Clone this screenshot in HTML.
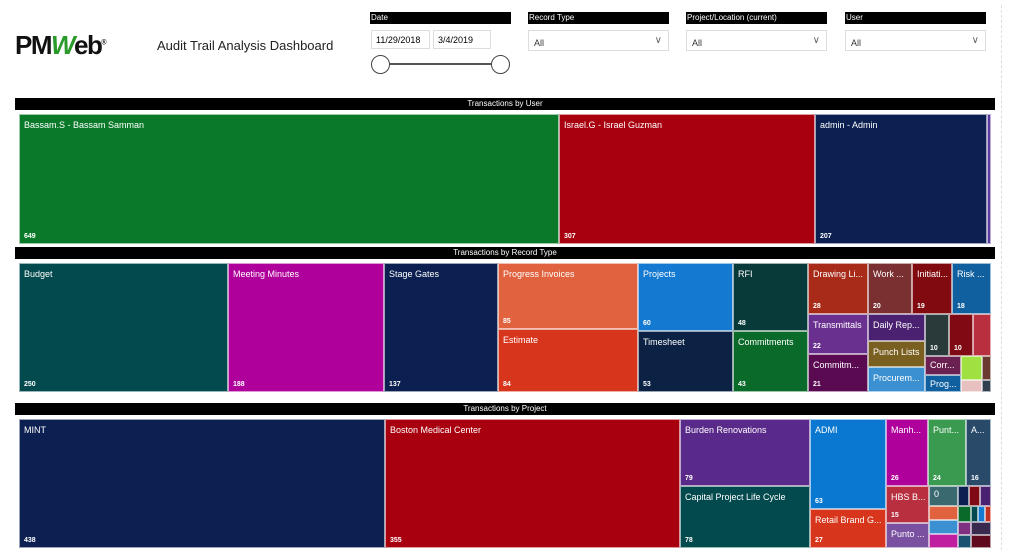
<!DOCTYPE html>
<html><head><meta charset="utf-8"><style>
body{margin:0;width:1024px;height:557px;background:#fff;position:relative;overflow:hidden;font-family:"Liberation Sans",sans-serif}
.a{position:absolute;box-sizing:border-box}
.t{position:absolute;box-sizing:border-box;color:#fff;font-size:9px;overflow:hidden;white-space:nowrap;border:1px solid rgba(255,255,255,.6)}
.t .l{position:absolute;left:4px;top:5px}
.t .n{position:absolute;left:4px;bottom:3px;font-size:7px;font-weight:bold}
.bar{position:absolute;left:15px;width:980px;height:12px;background:#000;color:#fff;font-size:8px;text-align:center;line-height:12px;font-family:"Liberation Sans Narrow","Liberation Sans",sans-serif}
.hd{position:absolute;height:12px;background:#000;color:#fff;font-size:8px;line-height:12px;padding-left:1px;font-family:"Liberation Sans Narrow","Liberation Sans",sans-serif}
.dd{position:absolute;height:21px;border:1px solid #ddd;font-size:9px;color:#333;box-sizing:border-box;padding:7px 0 0 5px}
.dd:after{content:"∨";position:absolute;right:6px;top:4px;font-size:10px;color:#666}
</style></head><body>
<div class="a" style="left:15px;top:30px;font:bold 26px 'Liberation Sans',sans-serif;color:#111;letter-spacing:-1.5px">PM<span style="color:#2a9a2a;font-style:italic">W</span>eb<sup style="font-size:7px">®</sup></div>
<div class="a" style="left:157px;top:38px;font-size:13px;color:#222">Audit Trail Analysis Dashboard</div>
<div class="hd" style="left:370px;top:12px;width:140px">Date</div>
<div class="hd" style="left:528px;top:12px;width:140px">Record Type</div>
<div class="hd" style="left:686px;top:12px;width:140px">Project/Location (current)</div>
<div class="hd" style="left:845px;top:12px;width:140px">User</div>
<div class="a" style="left:371px;top:30px;width:59px;height:19px;border:1px solid #ddd;font-size:9px;padding:4px 0 0 4px">11/29/2018</div>
<div class="a" style="left:433px;top:30px;width:58px;height:19px;border:1px solid #ddd;font-size:9px;padding:4px 0 0 4px">3/4/2019</div>
<div class="a" style="left:380px;top:63px;width:120px;height:2px;background:#555"></div>
<div class="a" style="left:371px;top:55px;width:19px;height:19px;border:1.5px solid #444;border-radius:50%;background:#fff"></div>
<div class="a" style="left:491px;top:55px;width:19px;height:19px;border:1.5px solid #444;border-radius:50%;background:#fff"></div>
<div class="dd" style="left:528px;top:30px;width:141px">All</div>
<div class="dd" style="left:686px;top:30px;width:141px">All</div>
<div class="dd" style="left:845px;top:30px;width:141px">All</div>
<div class="a" style="left:1001px;top:5px;width:0;height:545px;border-left:1px dashed #ddd"></div>

<div class="bar" style="top:98px">Transactions by User</div>
<div class="t" style="left:19px;top:114px;width:540px;height:130px;background:#0a7a2a"><span class="l">Bassam.S - Bassam Samman</span><span class="n">649</span></div>
<div class="t" style="left:559px;top:114px;width:256px;height:130px;background:#a8000f"><span class="l">Israel.G - Israel Guzman</span><span class="n">307</span></div>
<div class="t" style="left:815px;top:114px;width:172px;height:130px;background:#0b2050"><span class="l">admin - Admin</span><span class="n">207</span></div>
<div class="t" style="left:987px;top:114px;width:4px;height:130px;background:#5a3aa0"></div>

<div class="bar" style="top:247px">Transactions by Record Type</div>
<div class="t" style="left:19px;top:263px;width:209px;height:129px;background:#034a4e"><span class="l">Budget</span><span class="n">250</span></div>
<div class="t" style="left:228px;top:263px;width:156px;height:129px;background:#b0009c"><span class="l">Meeting Minutes</span><span class="n">188</span></div>
<div class="t" style="left:384px;top:263px;width:114px;height:129px;background:#0b2050"><span class="l">Stage Gates</span><span class="n">137</span></div>
<div class="t" style="left:498px;top:263px;width:140px;height:66px;background:#e0623e"><span class="l">Progress Invoices</span><span class="n">85</span></div>
<div class="t" style="left:498px;top:329px;width:140px;height:63px;background:#d8361c"><span class="l">Estimate</span><span class="n">84</span></div>
<div class="t" style="left:638px;top:263px;width:95px;height:68px;background:#1479d0"><span class="l">Projects</span><span class="n">60</span></div>
<div class="t" style="left:638px;top:331px;width:95px;height:61px;background:#0b2245"><span class="l">Timesheet</span><span class="n">53</span></div>
<div class="t" style="left:733px;top:263px;width:75px;height:68px;background:#083a3a"><span class="l">RFI</span><span class="n">48</span></div>
<div class="t" style="left:733px;top:331px;width:75px;height:61px;background:#0a6a2a"><span class="l">Commitments</span><span class="n">43</span></div>
<div class="t" style="left:808px;top:263px;width:60px;height:51px;background:#a82a18"><span class="l">Drawing Li...</span><span class="n">28</span></div>
<div class="t" style="left:808px;top:314px;width:60px;height:40px;background:#6a3090"><span class="l">Transmittals</span><span class="n">22</span></div>
<div class="t" style="left:808px;top:354px;width:60px;height:38px;background:#5a0a50"><span class="l">Commitm...</span><span class="n">21</span></div>
<div class="t" style="left:868px;top:263px;width:44px;height:51px;background:#7a3030"><span class="l">Work ...</span><span class="n">20</span></div>
<div class="t" style="left:912px;top:263px;width:40px;height:51px;background:#800a10"><span class="l">Initiati...</span><span class="n">19</span></div>
<div class="t" style="left:952px;top:263px;width:39px;height:51px;background:#1060a0"><span class="l">Risk ...</span><span class="n">18</span></div>
<div class="t" style="left:868px;top:314px;width:57px;height:27px;background:#4a2070"><span class="l">Daily Rep...</span></div>
<div class="t" style="left:868px;top:341px;width:57px;height:26px;background:#7a6020"><span class="l">Punch Lists</span></div>
<div class="t" style="left:868px;top:367px;width:57px;height:25px;background:#3a90d0"><span class="l">Procurem...</span></div>
<div class="t" style="left:925px;top:314px;width:24px;height:42px;background:#2a3a3a"><span class="n">10</span></div>
<div class="t" style="left:949px;top:314px;width:24px;height:42px;background:#800a14"><span class="n">10</span></div>
<div class="t" style="left:973px;top:314px;width:18px;height:42px;background:#b83040"></div>
<div class="t" style="left:925px;top:356px;width:36px;height:19px;background:#6a2050"><span class="l" style="top:3px">Corr...</span></div>
<div class="t" style="left:925px;top:375px;width:36px;height:17px;background:#1060a0"><span class="l" style="top:3px">Prog...</span></div>
<div class="t" style="left:961px;top:356px;width:21px;height:24px;background:#a0e040"></div>
<div class="t" style="left:982px;top:356px;width:9px;height:24px;background:#6a3a30"></div>
<div class="t" style="left:961px;top:380px;width:21px;height:12px;background:#e8c0c0"></div>
<div class="t" style="left:982px;top:380px;width:9px;height:12px;background:#304050"></div>

<div class="bar" style="top:403px">Transactions by Project</div>
<div class="t" style="left:19px;top:419px;width:366px;height:129px;background:#0b2050"><span class="l">MINT</span><span class="n">438</span></div>
<div class="t" style="left:385px;top:419px;width:295px;height:129px;background:#a8000f"><span class="l">Boston Medical Center</span><span class="n">355</span></div>
<div class="t" style="left:680px;top:419px;width:130px;height:67px;background:#5a2a8a"><span class="l">Burden Renovations</span><span class="n">79</span></div>
<div class="t" style="left:680px;top:486px;width:130px;height:62px;background:#034a4e"><span class="l">Capital Project Life Cycle</span><span class="n">78</span></div>
<div class="t" style="left:810px;top:419px;width:76px;height:90px;background:#0a78d0"><span class="l">ADMI</span><span class="n">63</span></div>
<div class="t" style="left:810px;top:509px;width:76px;height:39px;background:#d8361c"><span class="l">Retail Brand G...</span><span class="n">27</span></div>
<div class="t" style="left:886px;top:419px;width:42px;height:67px;background:#b0009c"><span class="l">Manh...</span><span class="n">26</span></div>
<div class="t" style="left:928px;top:419px;width:38px;height:67px;background:#3a9a50"><span class="l">Punt...</span><span class="n">24</span></div>
<div class="t" style="left:966px;top:419px;width:25px;height:67px;background:#2a4a6a"><span class="l">A...</span><span class="n">16</span></div>
<div class="t" style="left:886px;top:486px;width:43px;height:37px;background:#b83040"><span class="l">HBS B...</span><span class="n">15</span></div>
<div class="t" style="left:886px;top:523px;width:43px;height:25px;background:#7a50a0"><span class="l">Punto ...</span></div>
<div class="t" style="left:929px;top:486px;width:29px;height:20px;background:#3a6a70"><span class="l" style="top:2px">0</span></div>
<div class="t" style="left:929px;top:506px;width:29px;height:14px;background:#e0623e"></div>
<div class="t" style="left:929px;top:520px;width:29px;height:14px;background:#3a90d0"></div>
<div class="t" style="left:929px;top:534px;width:29px;height:14px;background:#c020a0"></div>
<div class="t" style="left:958px;top:486px;width:11px;height:20px;background:#0b2050"></div>
<div class="t" style="left:969px;top:486px;width:11px;height:20px;background:#800a14"></div>
<div class="t" style="left:980px;top:486px;width:11px;height:20px;background:#4a2070"></div>
<div class="t" style="left:958px;top:506px;width:13px;height:16px;background:#0a6a2a"></div>
<div class="t" style="left:971px;top:506px;width:7px;height:16px;background:#034a4e"></div>
<div class="t" style="left:978px;top:506px;width:7px;height:16px;background:#1479d0"></div>
<div class="t" style="left:985px;top:506px;width:6px;height:16px;background:#c03020"></div>
<div class="t" style="left:958px;top:522px;width:13px;height:13px;background:#803080"></div>
<div class="t" style="left:971px;top:522px;width:20px;height:13px;background:#3a2a50"></div>
<div class="t" style="left:958px;top:535px;width:13px;height:13px;background:#1a5070"></div>
<div class="t" style="left:971px;top:535px;width:20px;height:13px;background:#600a20"></div>
</body></html>
